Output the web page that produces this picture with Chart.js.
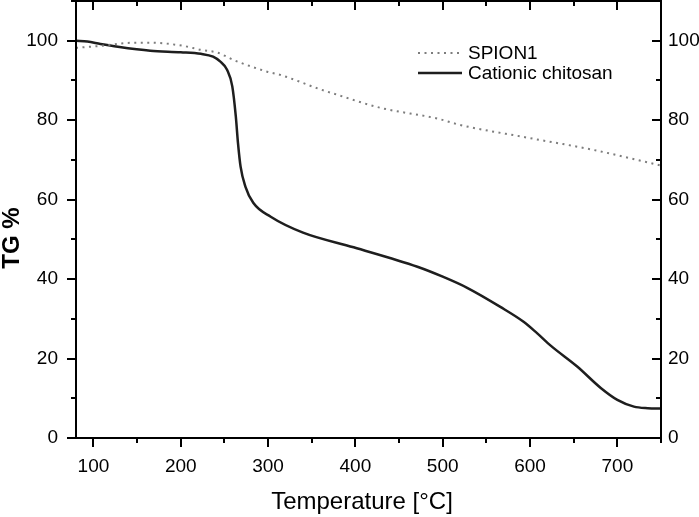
<!DOCTYPE html>
<html>
<head>
<meta charset="utf-8">
<script src="https://cdn.jsdelivr.net/npm/chart.js@4.4.0/dist/chart.umd.min.js"></script>
<style>
html, body { margin: 0; padding: 0; background: #fff; }
</style>
</head>
<body>
<canvas id="tg" width="699" height="517"></canvas>
<script>
// values (temperature in °C, mass in %)
const spionTemp = [80, 108, 146, 165, 203, 223, 242, 260, 268, 299, 314, 358, 372, 429, 494, 520, 597, 673, 746, 750];
const spionTG = [98.2, 98.7, 99.5, 99.5, 98.7, 97.7, 97.0, 95.2, 94.5, 92.2, 91.4, 87.9, 86.9, 83.1, 80.4, 78.8, 75.6, 72.5, 68.8, 68.6];

const chitosanTemp = [80, 93, 108, 128, 165, 200, 223, 237, 245, 253, 259, 263, 265.5, 268.5, 274, 283, 303, 340, 398, 471, 500, 528, 566, 593, 608, 624, 654, 681, 700, 719, 735, 750];
const chitosanTG = [100, 99.8, 99.2, 98.5, 97.5, 97.1, 96.7, 96.0, 94.8, 92.7, 88.5, 81, 74.3, 68.3, 63.3, 59.2, 55.7, 51.7, 48.0, 43.1, 40.6, 37.8, 33.0, 29.2, 26.4, 23.2, 18.0, 12.6, 9.6, 7.9, 7.5, 7.4];

const xTicks = [100, 200, 300, 400, 500, 600, 700];
const yTicks = [0, 20, 40, 60, 80, 100];

const FONT = '"Liberation Sans", Arial, Helvetica, sans-serif';

function toPoints(xs, ys) {
    return xs.map((x, i) => ({ x: x, y: ys[i] }));
}

// no extra room for overhanging tick labels
function noPadding(s) {
    s.paddingTop = 0;
    s.paddingBottom = 0;
    s.paddingLeft = 0;
    s.paddingRight = 0;
}

// frame, inner/outer tick marks, legend and axis titles
const framePlugin = {
    id: 'frame',
    afterDraw(chart) {
        const ctx = chart.ctx;
        const a = chart.chartArea;
        const x = chart.scales.x;
        const y = chart.scales.y;
        ctx.save();
        ctx.strokeStyle = '#000';
        ctx.lineWidth = 2;
        ctx.strokeRect(a.left, a.top, a.right - a.left, a.bottom - a.top);

        ctx.beginPath();
        for (let v = 100; v <= 750; v += 50) {
            const px = Math.round(x.getPixelForValue(v));
            const len = v % 100 === 0 ? 9 : 5;
            ctx.moveTo(px, a.bottom);
            ctx.lineTo(px, a.bottom + len);
            ctx.moveTo(px, a.top);
            ctx.lineTo(px, a.top + len);
        }
        for (let v = 0; v <= 110; v += 10) {
            const py = Math.round(y.getPixelForValue(v));
            const len = v % 20 === 0 ? 9 : 5;
            ctx.moveTo(a.left, py);
            ctx.lineTo(a.left - len, py);
            ctx.moveTo(a.right, py);
            ctx.lineTo(a.right - len, py);
        }
        ctx.stroke();

        // legend
        const ds = chart.data.datasets;
        const rows = [53, 73];
        ds.forEach((d, i) => {
            ctx.beginPath();
            ctx.strokeStyle = d.borderColor;
            ctx.lineWidth = d.borderWidth;
            ctx.setLineDash(d.borderDash || []);
            ctx.moveTo(418, rows[i]);
            ctx.lineTo(462, rows[i]);
            ctx.stroke();
            ctx.setLineDash([]);
            ctx.fillStyle = '#000';
            ctx.font = '19px ' + FONT;
            ctx.textBaseline = 'middle';
            ctx.textAlign = 'left';
            ctx.fillText(d.label, 468, rows[i] + 1);
        });

        // axis titles
        ctx.fillStyle = '#000';
        ctx.textAlign = 'center';
        ctx.textBaseline = 'middle';
        ctx.font = '24px ' + FONT;
        ctx.fillText('Temperature [°C]', 362, 502);
        ctx.translate(12, 238);
        ctx.rotate(-Math.PI / 2);
        ctx.font = 'bold 24px ' + FONT;
        ctx.fillText('TG %', 0, 0);
        ctx.restore();
    }
};

const tickFont = { family: FONT, size: 19 };

const config = {
    type: 'line',
    data: {
        datasets: [{
            label: 'SPION1',
            data: toPoints(spionTemp, spionTG),
            borderColor: '#7d7d7d',
            borderWidth: 2,
            borderDash: [2, 4.5],
            pointRadius: 0,
            cubicInterpolationMode: 'monotone',
            fill: false
        }, {
            label: 'Cationic chitosan',
            data: toPoints(chitosanTemp, chitosanTG),
            borderColor: '#1e1e1e',
            borderWidth: 2.5,
            pointRadius: 0,
            cubicInterpolationMode: 'monotone',
            fill: false
        }]
    },
    options: {
        responsive: false,
        animation: false,
        devicePixelRatio: 1,
        layout: { padding: { top: 1, left: 0, right: 0, bottom: 0 } },
        plugins: { legend: { display: false }, tooltip: { enabled: false } },
        scales: {
            x: {
                type: 'linear',
                min: 80,
                max: 750,
                afterBuildTicks: s => { s.ticks = xTicks.map(v => ({ value: v })); },
                afterFit: s => { s.height = 79; noPadding(s); },
                grid: { display: false, drawTicks: false },
                border: { display: false },
                ticks: { font: tickFont, color: '#000', padding: 17, maxRotation: 0, autoSkip: false }
            },
            y: {
                position: 'left',
                min: 0,
                max: 110,
                afterBuildTicks: s => { s.ticks = yTicks.map(v => ({ value: v })); },
                afterFit: s => { s.width = 76; noPadding(s); },
                grid: { display: false, drawTicks: false },
                border: { display: false },
                ticks: { font: tickFont, color: '#000', padding: 18 }
            },
            y2: {
                position: 'right',
                min: 0,
                max: 110,
                afterBuildTicks: s => { s.ticks = yTicks.map(v => ({ value: v })); },
                afterFit: s => { s.width = 38; noPadding(s); },
                grid: { display: false, drawTicks: false },
                border: { display: false },
                ticks: { font: tickFont, color: '#000', padding: 7 }
            }
        }
    },
    plugins: [framePlugin]
};

const myChart = new Chart(document.getElementById('tg').getContext('2d'), config);
</script>
</body>
</html>
